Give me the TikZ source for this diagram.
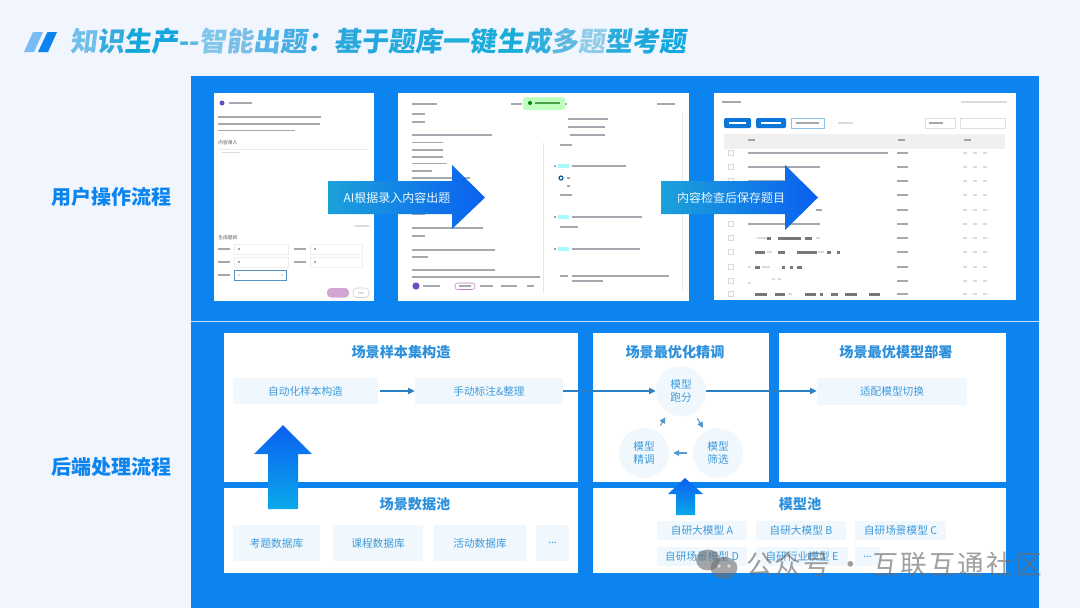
\documentclass[tikz,border=0pt]{standalone}
\usepackage{fontspec}
\setmainfont{Noto Sans CJK SC}
\newfontfamily\titlefont[FakeSlant=0.12]{Noto Sans CJK SC}
\newfontfamily\wmfont[LetterSpace=7]{Noto Sans CJK SC}
\usetikzlibrary{arrows.meta}
\definecolor{pagebg}{HTML}{F1F5FD}
\definecolor{panelblue}{HTML}{0B84F0}
\definecolor{headblue}{HTML}{2B8FDB}
\definecolor{cellink}{HTML}{3E9ADB}
\definecolor{cellfill}{HTML}{F0F8FD}
\definecolor{flowblue}{HTML}{2B80C4}
\definecolor{gradcyan}{HTML}{0AA8EA}
\definecolor{gradblue}{HTML}{0A60F0}
\definecolor{purplemark}{HTML}{6A4FC0}
\definecolor{barink}{HTML}{5A6470}
\newcommand{\lnb}[3]{\fill[txtbar] (#1,#3-0.9) rectangle (#2,#3+0.9);}
\newcommand{\lnd}[3]{\fill[darkbar] (#1,#3-1.5) rectangle (#2,#3+1.5);}
\newcommand{\lnl}[3]{\fill[lightbar] (#1,#3-0.9) rectangle (#2,#3+0.9);}
\newcommand{\tcc}[2]{\textcolor[HTML]{#1}{#2}}
\tikzset{
  txtbar/.style={fill=barink,opacity=.55},
  darkbar/.style={fill=black!70,opacity=.75},
  lightbar/.style={fill=gray,opacity=.28},
  screenbox/.style={fill=white},
  whitebox/.style={fill=white,inner sep=0},
  wh/.style 2 args={minimum width=#1*0.75pt,minimum height=#2*0.75pt},
  cellbox/.style={fill=cellfill,text=cellink,font=\fontsize{8}{10}\selectfont,inner sep=0},
  ringbox/.style={circle,fill=cellfill,text=cellink,font=\fontsize{8}{9.8}\selectfont,align=center,inner sep=0,minimum size=37.5pt},
  headtext/.style={text=headblue,font=\fontsize{10.6}{12}\selectfont\bfseries,inner sep=0},
  sidetext/.style={text=panelblue,font=\fontsize{15}{18}\selectfont\bfseries,inner sep=0},
  arrowtext/.style={text=white!92!cyan,font=\fontsize{9}{11}\selectfont,inner sep=0},
  shottext/.style={text=black!65,font=\fontsize{3.6}{4}\selectfont,inner sep=0},
  flow/.style={draw=flowblue,line width=.8pt,-{Triangle[length=5pt,width=4.6pt]}},
  smallflow/.style={draw=flowblue!80,line width=.8pt,-{Triangle[length=4.4pt,width=4.4pt]}},
}
\begin{document}
\begin{tikzpicture}[x=0.75pt,y=-0.75pt]
\useasboundingbox (0,0) rectangle (1080,608);
\fill[pagebg] (0,0) rectangle (1080,608);
% title
\fill[panelblue!55!white] (33,32) -- (43,32) -- (34,52) -- (24,52) -- cycle;
\fill[panelblue] (47.5,32) -- (57,32) -- (48,52) -- (38,52) -- cycle;
\node[anchor=west,inner sep=0,font=\fontsize{20.3}{24}\selectfont\titlefont\bfseries] (title) at (70,41)
 {\tcc{6FBFE8}{知}\tcc{35ABE0}{识}\tcc{12A8DC}{生}\tcc{12A5E0}{产}\tcc{3FAFE2}{-}\tcc{5CB8E6}{-}\tcc{7EC6EA}{智}\tcc{7ABFE8}{能}\tcc{55B5E6}{出}\tcc{45AEE4}{题}\tcc{2AAAE0}{：}\tcc{2AA8DC}{基}\tcc{22A8DC}{于}\tcc{25ABDE}{题}\tcc{20A8DC}{库}\tcc{20B0D8}{一}\tcc{1AACDA}{键}\tcc{16ADD8}{生}\tcc{30AEDC}{成}\tcc{5BB8E0}{多}\tcc{8FCDE8}{题}\tcc{2AACDC}{型}\tcc{1AA8DC}{考}\tcc{14A8E0}{题}};
% panel
\fill[panelblue] (191,76) rectangle (1039,608);
\fill[white,opacity=.75] (191,320.5) rectangle (1039,321.5);
\node[sidetext] (side1) at (111,197) {用户操作流程};
\node[sidetext] (side2) at (111,467) {后端处理流程};
% screenshot 1
\fill[screenbox] (214,93) rectangle (374,301);
\fill[purplemark] (222,103) circle (2.5);
\lnb{229}{252}{103}
\lnb{218}{321}{117} \lnb{218}{320}{124} \lnb{218}{295}{130.5}
\node[shottext,anchor=west] (s1a) at (218,142.5) {内容录入};
\fill[lightbar,opacity=.15] (218,148.6) rectangle (368,149.4);
\lnl{222}{240}{152.5} \lnl{355}{369}{226}
\node[shottext,anchor=west] (s1b) at (218,238) {生成题目};
\foreach \yy/\wd in {249/288,262/288}{ \lnb{218}{230}{\yy} \draw[gray,opacity=.12,line width=.3pt] (234,\yy-5) rectangle (\wd,\yy+5); \lnb{238}{240}{\yy} \lnb{294}{306}{\yy} \draw[gray,opacity=.12,line width=.3pt] (310,\yy-5) rectangle (362,\yy+5); \lnb{314}{316}{\yy} }
\lnb{218}{230}{275}
\draw[cellink!70!gray,line width=.4pt] (234,270) rectangle (286,280);
\lnl{238}{240}{275} \lnl{281}{283}{275}
\fill[violet!35!white,rounded corners=3pt] (327,288) rectangle (349,297.5);
\draw[gray!40,rounded corners=3pt,line width=.4pt] (353,288) rectangle (369,297.5);
\lnl{358}{364}{292.7}
% screenshot 2
\fill[screenbox] (398,93) rectangle (689,301);
\lnb{412}{437}{104}
\foreach \ya/\xb in {114/425,122/425,135/492,142.5/443,150/443,157/443,163.5/447,171/432,178/470,214/425,228/483,236/425,250/495,257/428,270/495,277/540}{\lnb{412}{\xb}{\ya}}
\fill[purplemark] (416,286) circle (3.6);
\lnb{423}{440}{286}
\draw[violet!50,rounded corners=2pt,line width=.4pt] (455,283) rectangle (475,289.5);
\lnb{459}{471}{286} \lnb{480}{493}{286} \lnb{501}{517}{286} \lnb{527}{534}{286}
\lnb{511}{522}{104}
\fill[green!25!white,rounded corners=2pt] (523,97) rectangle (565,110);
\fill[green!50!black] (530,103) circle (2);
\fill[green!40!black,opacity=.6] (535,102) rectangle (560,104);
\lnb{565}{567}{104} \lnb{657}{675}{104}
\fill[gray,opacity=.2] (542.5,143) rectangle (544,293);
\fill[gray,opacity=.18] (681.5,113) rectangle (683,290);
\foreach \ya/\xa/\xb in {119/568/608,127/568/605,135/570/605,145/560/572,166/572/626,186/567/570,195/560/572,217/572/642,227/560/578,249/572/640,276/560/568,276/572/669,281/572/603}{\lnb{\xa}{\xb}{\ya}}
\foreach \ya in {166,217,249}{\fill[cellfill!70!cyan] (558,\ya-2) rectangle (569,\ya+2); \lnb{554}{555.5}{\ya}}
\draw[panelblue!70!black,line width=.9pt] (561,178) circle (2);
\lnb{567}{570}{178}
% screenshot 3
\fill[screenbox] (714,93) rectangle (1016,300);
\lnb{722}{741}{102} \lnl{961}{1007}{102}
\fill[panelblue!90!black,rounded corners=1pt] (724,118) rectangle (751,128);
\fill[panelblue!90!black,rounded corners=1pt] (756,118) rectangle (786,128);
\draw[cellink!60!white,line width=.4pt] (791,118) rectangle (824,128);
\fill[white] (729,122) rectangle (746,124);
\fill[white] (761,122) rectangle (781,124);
\lnb{796}{819}{123} \lnl{838}{853}{123}
\draw[gray!25,line width=.4pt] (925,118) rectangle (955,128);
\draw[gray!25,line width=.4pt] (960,118) rectangle (1005,128);
\lnb{929}{943}{123}
\fill[gray!12] (724,134) rectangle (1005,149);
\lnb{748}{755}{140} \lnb{898}{905}{140} \lnb{964}{971}{140}
\foreach \ya in {153,167,181,195,210,224,238,252,267,281,294}{
  \draw[gray!30,line width=.3pt] (728,\ya-2.5) rectangle (733,\ya+2.5);
  \lnb{897}{908}{\ya}
  \lnl{963}{967}{\ya} \lnl{973}{977}{\ya} \lnl{983}{987}{\ya}
}
\lnb{748}{888}{153} \lnb{748}{820}{167} \lnb{748}{785}{181} \lnb{816}{822}{210} \lnb{748}{820}{224}
\lnl{757}{767}{238} \lnd{767}{771}{238} \lnd{778}{801}{238} \lnd{805}{812}{238} \lnl{816}{820}{238}
\lnd{755}{765}{252} \lnl{767}{772}{252} \lnd{778}{785}{252} \lnd{797}{817}{252} \lnl{818}{824}{252} \lnd{827}{831}{252} \lnd{837}{840}{252}
\lnl{748}{751}{267} \lnd{755}{760}{267} \lnl{762}{770}{267} \lnd{782}{785}{267} \lnd{790}{793}{267} \lnd{797}{802}{267}
\lnl{748}{751}{283} \lnl{772}{775}{279} \lnl{778}{781}{279}
\lnd{755}{767}{294} \lnd{775}{785}{294} \lnl{788}{792}{294} \lnd{805}{816}{294} \lnd{820}{823}{294} \lnd{831}{838}{294} \lnd{845}{857}{294} \lnd{869}{880}{294}
% big horizontal arrows
\shade[left color=gradcyan!85!gray,right color=gradblue] (328,181) -- (452,181) -- (452,165) -- (485,197.5) -- (452,229) -- (452,214) -- (328,214) -- cycle;
\node[arrowtext] (ar1) at (397,198) {AI根据录入内容出题};
\shade[left color=gradcyan!85!gray,right color=gradblue] (661,181) -- (785,181) -- (785,165) -- (818,197.5) -- (785,230) -- (785,214) -- (661,214) -- cycle;
\node[arrowtext] (ar2) at (731,198) {内容检查后保存题目};
% lower panels
\node[whitebox,wh={354}{149},anchor=north west] (p1) at (224,333) {};
\node[whitebox,wh={176}{149},anchor=north west] (p2) at (593,333) {};
\node[whitebox,wh={227}{149},anchor=north west] (p3) at (779,333) {};
\node[whitebox,wh={354}{85},anchor=north west] (p4) at (224,488) {};
\node[whitebox,wh={413}{85},anchor=north west] (p5) at (593,488) {};
\node[headtext] (h1) at (401,352) {场景样本集构造};
\node[headtext] (h2) at (675,352) {场景最优化精调};
\node[headtext] (h3) at (896,352) {场景最优模型部署};
\node[headtext] (h4) at (415,504) {场景数据池};
\node[headtext] (h5) at (800,504) {模型池};
\node[cellbox,wh={145}{26}] (b1) at (305.5,391) {自动化样本构造};
\node[cellbox,wh={148}{26}] (b2) at (489,391) {手动标注\&整理};
\node[ringbox] (c1) at (681,391) {模型\\跑分};
\node[ringbox] (c2) at (718,453) {模型\\筛选};
\node[ringbox] (c3) at (644,453) {模型\\精调};
\node[cellbox,wh={150}{27}] (d1) at (892,391) {适配模型切换};
\draw[flow] (b1.east) ++(2,0) -- (b2.west);
\draw[flow] (b2.east) -- (c1.west);
\draw[flow] (c1.east) -- (d1.west);
\draw[smallflow,shorten <=5pt,shorten >=3pt] (c1) -- (c2);
\draw[smallflow,shorten <=4pt,shorten >=3pt] (c2) -- (c3);
\draw[smallflow,shorten <=5pt,shorten >=4pt] (c3) -- (c1);
\node[cellbox,wh={87}{36}] (e1) at (276.5,543) {考题数据库};
\node[cellbox,wh={90}{36}] (e2) at (378,543) {课程数据库};
\node[cellbox,wh={92}{36}] (e3) at (480,543) {活动数据库};
\node[cellbox,wh={33}{36}] (e4) at (552.5,543) {...};
\node[cellbox,wh={90}{19}] (m1) at (702,530.5) {自研大模型 A};
\node[cellbox,wh={90}{19}] (m2) at (801,530.5) {自研大模型 B};
\node[cellbox,wh={91}{19}] (m3) at (900.5,530.5) {自研场景模型 C};
\node[cellbox,wh={90}{19}] (m4) at (702,556.5) {自研场景模型 D};
\node[cellbox,wh={92}{19}] (m5) at (802,556.5) {自研行业模型 E};
\node[cellbox,wh={25}{19}] (m6) at (867.5,556.5) {...};
% up arrows
\shade[bottom color=gradcyan,top color=gradblue] (283,425) -- (312,454) -- (298,454) -- (298,509) -- (268,509) -- (268,454) -- (254,454) -- cycle;
\shade[bottom color=gradcyan,top color=gradblue] (685,478) -- (703,494) -- (695,494) -- (695,515) -- (676,515) -- (676,494) -- (668,494) -- cycle;
% watermark
\begin{scope}[opacity=.6]
\fill[gray!85!black] (708,560) ellipse (12 and 10.5);
\fill[gray!85!black] (724,568) ellipse (13.5 and 11);
\fill[white] (719,566) circle (1.8);
\fill[white] (729,566) circle (1.8);
\end{scope}
\node[anchor=west,inner sep=0,text=gray!85!black,opacity=.65,font=\fontsize{20}{24}\selectfont\wmfont] (wm) at (746,564.5) {公众号 · 互联互通社区};
\end{tikzpicture}
\end{document}
